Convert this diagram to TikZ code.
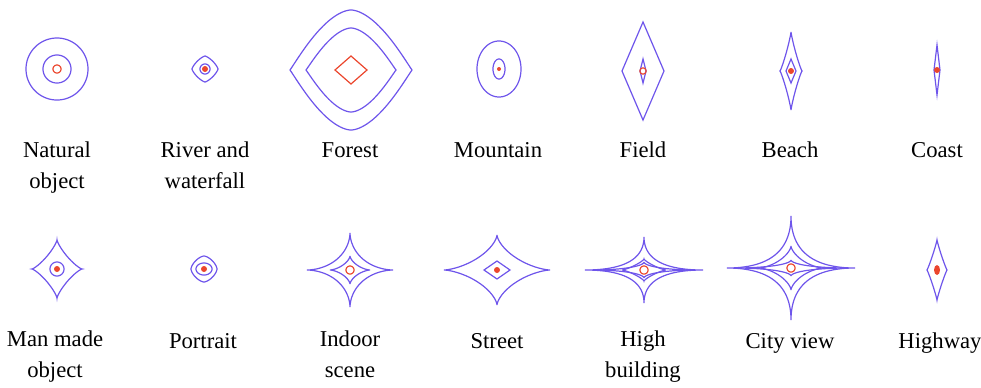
\documentclass[tikz,border=0pt]{standalone}
\usepackage{fontspec}
\setmainfont{Liberation Serif}

\definecolor{specblue}{RGB}{110,85,235}
\definecolor{specred}{RGB}{235,70,45}

\tikzset{
  contour/.style={specblue,line width=0.9pt},
  centre/.style={specred,line width=0.9pt},
  scene/.style={anchor=base,align=center,inner sep=0pt,
    font=\fontsize{17}{23}\selectfont}
}

% contour: centre, demi-largeur, demi-hauteur, exposant x, exposant y, style
\newcommand{\spectrum}[6]{%
  \draw[#6,shift={(#1)}] plot[domain=0:360,samples=145]
    ({#2*cos(\x)*pow(abs(cos(\x))+0.0001,#4-1)},
     {#3*sin(\x)*pow(abs(sin(\x))+0.0001,#5-1)}) -- cycle;}

\begin{document}
\begin{tikzpicture}[x=0.75pt,y=-0.75pt]

\useasboundingbox (0,0) rectangle (981,387);

% -----------------------
% Centres des spectres
% -----------------------
\coordinate (natural) at (57,69);
\coordinate (river) at (205,69);
\coordinate (forest) at (351,70);
\coordinate (mountain) at (499,69);
\coordinate (field) at (643,71);
\coordinate (beach) at (791,71);
\coordinate (coast) at (937,70);

\coordinate (manmade) at (57,269);
\coordinate (portrait) at (204,269);
\coordinate (indoor) at (350,270);
\coordinate (street) at (497,270);
\coordinate (building) at (644,270);
\coordinate (city) at (791,268);
\coordinate (highway) at (937,270);

% -----------------------
% Premiere ligne
% -----------------------
\spectrum{natural}{31}{31}{1}{1}{contour}
\spectrum{natural}{14}{14}{1}{1}{contour}
\spectrum{natural}{4}{4}{1}{1}{centre}

\spectrum{river}{13}{13}{1.5}{1.5}{contour}
\spectrum{river}{5}{5}{1}{1}{contour}
\fill[specred] (river) circle[radius=3];

\spectrum{forest}{61}{60}{1.15}{2.1}{contour}
\spectrum{forest}{45}{42}{1.15}{2.1}{contour}
\spectrum{forest}{16}{14}{2}{2}{centre}

\spectrum{mountain}{22}{28}{1}{1}{contour}
\spectrum{mountain}{6}{10}{1}{1}{contour}
\fill[specred] (mountain) circle[radius=2];

\spectrum{field}{21}{49}{2}{2}{contour}
\spectrum{field}{3}{12}{2}{2}{contour}
\spectrum{field}{3}{3}{1}{1}{centre}

\spectrum{beach}{11}{39}{2.3}{2.3}{contour}
\spectrum{beach}{5}{12}{2}{2}{contour}
\fill[specred] (beach) circle[radius=3];

\spectrum{coast}{3}{25}{2}{2}{contour}
\fill[specred] (coast) circle[radius=3];

% -----------------------
% Deuxieme ligne
% -----------------------
\spectrum{manmade}{25}{29}{2.5}{2.5}{contour}
\spectrum{manmade}{7}{7}{1}{1}{contour}
\fill[specred] (manmade) circle[radius=3];

\spectrum{portrait}{13}{13}{1.3}{1.3}{contour}
\spectrum{portrait}{8}{6}{1}{1}{contour}
\fill[specred] (portrait) circle[radius=3];

\spectrum{indoor}{43}{37}{3.5}{3.5}{contour}
\spectrum{indoor}{20}{14}{3}{3}{contour}
\spectrum{indoor}{4}{4}{1}{1}{centre}

\spectrum{street}{53}{35}{3}{3}{contour}
\spectrum{street}{13}{9}{2}{2}{contour}
\fill[specred] (street) circle[radius=3];

\spectrum{building}{59}{33}{4}{4}{contour}
\spectrum{building}{50}{8}{3.5}{3.5}{contour}
\spectrum{building}{22}{11}{2.5}{2.5}{contour}
\spectrum{building}{4}{4}{1}{1}{centre}

\spectrum{city}{64}{52}{4}{4}{contour}
\spectrum{city}{55}{8}{3.5}{3.5}{contour}
\spectrum{city}{32}{22}{3}{3}{contour}
\spectrum{city}{4}{4}{1}{1}{centre}

\spectrum{highway}{10}{30}{2.2}{2.2}{contour}
\fill[specred] (highway) ellipse[x radius=3,y radius=5];

% -----------------------
% Legendes (ancre sur la derniere ligne)
% -----------------------
\node[scene] (l-natural) at (57,188) {Natural\\object};
\node[scene] (l-river) at (205,188) {River and\\waterfall};
\node[scene] (l-forest) at (350,157) {Forest};
\node[scene] (l-mountain) at (498,157) {Mountain};
\node[scene] (l-field) at (643,157) {Field};
\node[scene] (l-beach) at (790,157) {Beach};
\node[scene] (l-coast) at (937,157) {Coast};

\node[scene] (l-manmade) at (55,377) {Man made\\object};
\node[scene] (l-portrait) at (203,348) {Portrait};
\node[scene] (l-indoor) at (350,377) {Indoor\\scene};
\node[scene] (l-street) at (497,348) {Street};
\node[scene] (l-building) at (643,377) {High\\building};
\node[scene] (l-city) at (790,348) {City view};
\node[scene] (l-highway) at (940,348) {Highway};

\end{tikzpicture}
\end{document}
